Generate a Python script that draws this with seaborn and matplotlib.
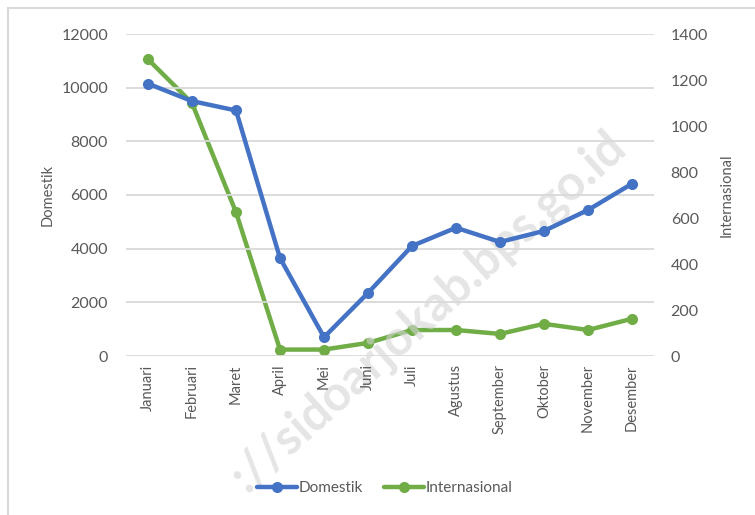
import pandas as pd
import matplotlib.pyplot as plt
import seaborn as sns
from matplotlib.lines import Line2D
from matplotlib.patches import Rectangle

# data
bulan = ['Januari', 'Februari', 'Maret', 'April', 'Mei', 'Juni', 'Juli',
         'Agustus', 'September', 'Oktober', 'November', 'Desember']
domestik = [10150, 9500, 9150, 3650, 700, 2350, 4100, 4780, 4250, 4660, 5440, 6420]
internasional = [1290, 1100, 625, 28, 28, 57, 113, 113, 96, 140, 113, 162]
left_ticks = [0, 2000, 4000, 6000, 8000, 10000, 12000]
right_ticks = [0, 200, 400, 600, 800, 1000, 1200, 1400]

BLUE = '#4472C4'
GREEN = '#70AD47'
TXT = '#595959'

sns.set_theme(style="white")
plt.rcParams['font.family'] = ['Lato', 'DejaVu Sans']

df = pd.DataFrame({'Bulan': bulan, 'Domestik': domestik, 'Internasional': internasional})

fig = plt.figure(figsize=(7.55, 5.15), dpi=100)
fig.patches.append(Rectangle((8 / 755, -0.1), 1.2, (515 - 8) / 515 + 0.1,
                             transform=fig.transFigure, fill=False,
                             edgecolor='#d9d9d9', linewidth=1.5))

ax = fig.add_axes([126 / 755, (515 - 356) / 515, (654 - 126) / 755, (356 - 34) / 515])
ax2 = ax.twinx()

sns.lineplot(data=df, x='Bulan', y='Domestik', ax=ax, color=BLUE, linewidth=3.2,
             marker='o', markersize=8, markeredgewidth=0, sort=False, zorder=3)
sns.lineplot(data=df, x='Bulan', y='Internasional', ax=ax2, color=GREEN, linewidth=3.2,
             marker='o', markersize=8, markeredgewidth=0, sort=False, zorder=3)

ax.set_ylim(0, 12000)
ax2.set_ylim(0, 1400)
ax.set_xlim(-0.5, len(bulan) - 0.5)
ax.set_yticks(left_ticks)
ax2.set_yticks(right_ticks)
ax.set_yticklabels([str(v) for v in left_ticks], color=TXT, fontsize=11.5)
ax2.set_yticklabels([str(v) for v in right_ticks], color=TXT, fontsize=11.5)
ax.set_xticks(range(len(bulan)))
ax.set_xticklabels(bulan, rotation=90, color=TXT, fontsize=10.5)
ax.yaxis.grid(True, color='#d9d9d9', linewidth=1.3)
ax.set_axisbelow(True)
ax.tick_params(axis='both', length=0)
ax.tick_params(axis='y', pad=13)
ax.tick_params(axis='x', pad=6)
ax2.tick_params(axis='y', length=0, pad=12)
for a in (ax, ax2):
    for s in a.spines.values():
        s.set_visible(False)
ax.set_xlabel('')
ax.set_ylabel('Domestik', color=TXT, fontsize=10.5, labelpad=5)
ax2.set_ylabel('Internasional', color=TXT, fontsize=10.5, labelpad=8)
ax.set_zorder(ax2.get_zorder() + 1)
ax.patch.set_visible(False)

handles = [Line2D([], [], color=BLUE, linewidth=3.2, marker='o', markersize=8, markeredgewidth=0),
           Line2D([], [], color=GREEN, linewidth=3.2, marker='o', markersize=8, markeredgewidth=0)]
fig.legend(handles, ['Domestik', 'Internasional'], loc='center', bbox_to_anchor=(0.51, 0.052),
           ncol=2, frameon=False, fontsize=11, handlelength=2.6, handletextpad=0.1,
           columnspacing=1.4, labelcolor=TXT)

# faint watermark
fig.text(628 / 755, 1 - 150 / 515, '://sidoarjokab.bps.go.id', rotation=42,
         rotation_mode='anchor', ha='right', va='baseline', fontsize=35,
         fontweight='bold', color='#d4d4d4', alpha=0.6, zorder=0)

fig.savefig('out.png', dpi=100)
